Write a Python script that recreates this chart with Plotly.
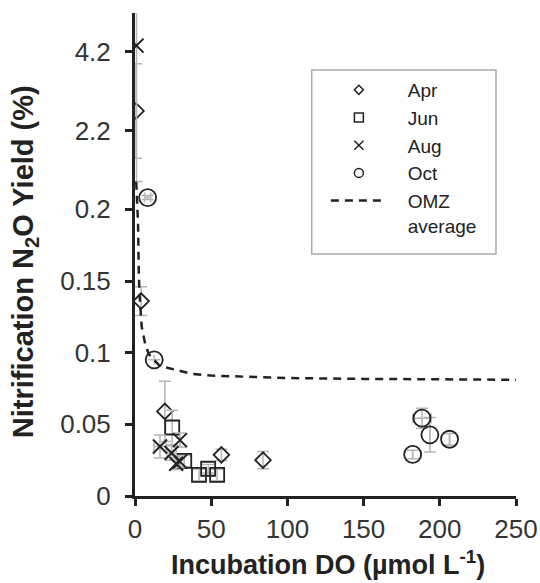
import plotly.graph_objects as go

# ---------------- data ----------------
apr_do = [0.7, 4.0, 19.6, 56.7, 84.0]
apr_y = [2.70, 0.136, 0.059, 0.0287, 0.025]
apr_err = [1.2, 0.010, 0.021, 0.004, 0.006]

jun_do = [24.4, 32.3, 42.0, 48.0, 53.9]
jun_y = [0.0478, 0.0245, 0.0147, 0.019, 0.0147]
jun_err = [0.012, 0.004, 0.004, 0.003, 0.004]

aug_do = [1.0, 16.4, 29.5, 24.0, 29.5, 27.0]
aug_y = [4.36, 0.0345, 0.039, 0.030, 0.024, 0.0225]
aug_err = [3.45, 0.008, 0.005, 0.005, 0.004, 0.004]
aug_xerr = [0, 4.0, 0, 3.0, 0, 0]

oct_do = [8.3, 12.6, 188.3, 193.5, 206.4, 182.2]
oct_y = [0.50, 0.095, 0.0543, 0.0427, 0.0396, 0.029]
oct_err = [0.05, 0.0, 0.007, 0.012, 0.004, 0.003]
oct_xerr = [2.0, 0, 6.0, 0, 0, 0]

omz_do = [0.8, 1.2, 1.6, 2.0, 2.5, 3.0, 4.4, 6.5, 9, 12.6, 16, 21.8, 30, 37, 50, 67, 100, 150, 200, 250]
omz_y = [0.9, 0.45, 0.25, 0.19, 0.155, 0.14, 0.118, 0.107, 0.099, 0.095, 0.091, 0.0893,
         0.087, 0.0853, 0.084, 0.0834, 0.0823, 0.0817, 0.0814, 0.0811]

ytick_vals = [0, 0.05, 0.1, 0.15, 0.2, 2.2, 4.2]
ytick_text = ["0", "0.05", "0.1", "0.15", "0.2", "2.2", "4.2"]
xtick_vals = [0, 50, 100, 150, 200, 250]

# ---------------- broken-axis transform ----------------
BREAK = 0.2
UPPER_SCALE = 0.02745  # axis units per 1 % above the break


def t(v):
    if v is None:
        return None
    return v if v <= BREAK else BREAK + (v - BREAK) * UPPER_SCALE


def tv(vals):
    return [t(v) for v in vals]


def err_plus(vals, errs):
    return [t(v + e) - t(v) for v, e in zip(vals, errs)]


def err_minus(vals, errs):
    return [t(v) - t(max(v - e, 0)) for v, e in zip(vals, errs)]


INK = "#222222"
ERR = "#b5b5b5"
FONT = "Arial, 'Liberation Sans', sans-serif"
PAD = "\u00a0\u00a0\u00a0"  # spacing between legend symbol and label

fig = go.Figure()


def add_series(name, xs, ys, errs, symbol, size, xerrs=None, lw=1.8):
    ex = None
    if xerrs is not None:
        ex = dict(type="data", array=xerrs, color=ERR, thickness=1.5, width=5)
    fig.add_trace(go.Scatter(
        x=xs, y=tv(ys), mode="markers", name=name, showlegend=False,
        legendgroup=name,
        marker=dict(symbol=symbol, size=size, color=INK,
                    line=dict(color=INK, width=lw)),
        error_y=dict(type="data", symmetric=False, array=err_plus(ys, errs),
                     arrayminus=err_minus(ys, errs), color=ERR, thickness=1.5, width=6),
        error_x=ex,
    ))


add_series("Apr", apr_do, apr_y, apr_err, "diamond-open", 12)
add_series("Jun", jun_do, jun_y, jun_err, "square-open", 14)
add_series("Aug", aug_do, aug_y, aug_err, "x-thin-open", 14, aug_xerr, lw=2)
add_series("Oct", oct_do, oct_y, oct_err, "circle-open", 17, oct_xerr)

# legend-only entries (smaller symbols like the reference legend)
for name, sym, sz in [("Apr", "diamond-open", 7), ("Jun", "square-open", 9),
                      ("Aug", "x-thin-open", 9), ("Oct", "circle-open", 9)]:
    fig.add_trace(go.Scatter(
        x=[None], y=[None], mode="markers", name=PAD + name, legendgroup=name,
        marker=dict(symbol=sym, size=sz, color=INK,
                    line=dict(color=INK, width=1.5)),
        showlegend=True,
    ))

# OMZ average curve
fig.add_trace(go.Scatter(
    x=omz_do, y=tv(omz_y), mode="lines", name=PAD + "OMZ<br>" + PAD + "average",
    line=dict(color=INK, width=2.5, dash="8px,6px"), legendgroup="omz",
    showlegend=True,
))

fig.update_layout(
    width=540, height=583,
    margin=dict(l=135, r=24, t=13, b=87, autoexpand=False),
    paper_bgcolor="white", plot_bgcolor="white",
    font=dict(family=FONT, color=INK),
    showlegend=True,
    legend=dict(
        x=0.501, y=0.88, xanchor="left", yanchor="top",
        font=dict(size=19, color=INK, family=FONT),
        bgcolor="rgba(0,0,0,0)", borderwidth=0,
        traceorder="normal", tracegroupgap=0, valign="top",
        itemwidth=56,
    ),
    xaxis=dict(
        range=[0, 250], tickvals=xtick_vals, showgrid=False, zeroline=False,
        showline=True, linecolor=INK, linewidth=3, automargin=False,
        ticks="outside", ticklen=7, tickwidth=3, tickcolor=INK,
        tickfont=dict(size=26, color="#333333"), ticklabelstandoff=1,
    ),
    yaxis=dict(
        range=[0, t(5.19)], tickvals=tv(ytick_vals), ticktext=ytick_text,
        showgrid=False, zeroline=False, automargin=False,
        showline=True, linecolor=INK, linewidth=3,
        ticks="outside", ticklen=7, tickwidth=3, tickcolor=INK,
        tickfont=dict(size=26, color="#333333"), ticklabelstandoff=9,
    ),
    shapes=[dict(type="rect", xref="paper", yref="paper",
                 x0=0.4638, x1=0.9475, y0=0.501, y1=0.882,
                 line=dict(color="#aaaaaa", width=1.5), fillcolor="rgba(0,0,0,0)",
                 layer="below")],
    annotations=[
        dict(text="<b>Nitrification N<sub>2</sub>O Yield (%)</b>", xref="paper", yref="paper",
             x=-0.289, y=0.486, textangle=-90, showarrow=False,
             font=dict(size=29, color=INK, family=FONT), xanchor="center", yanchor="middle"),
        dict(text="<b>Incubation DO (µmol L<sup>-1</sup>)</b>", xref="paper", yref="paper",
             x=0.5066, y=-0.139, showarrow=False,
             font=dict(size=27, color=INK, family=FONT), xanchor="center", yanchor="middle"),
    ],
)

fig.write_html("out.html", config={"displayModeBar": False},
               post_script="document.body.style.margin='0';")
